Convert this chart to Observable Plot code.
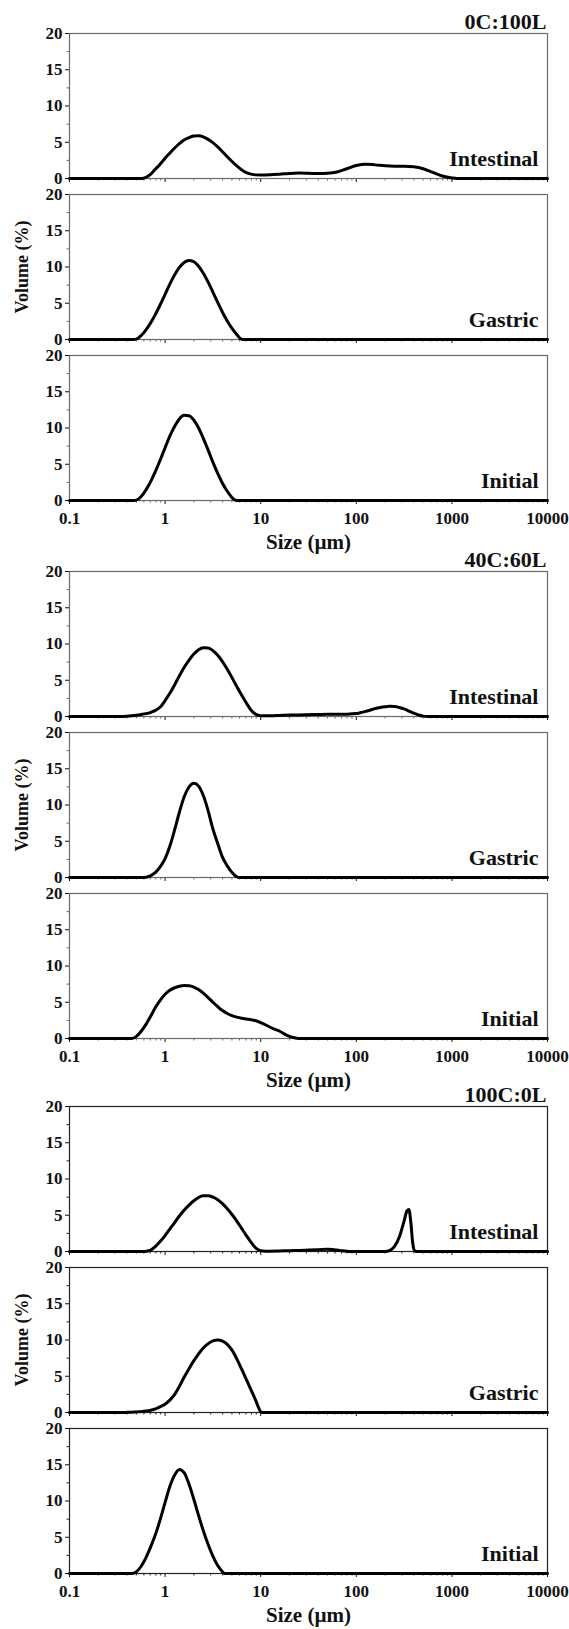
<!DOCTYPE html>
<html>
<head>
<meta charset="utf-8">
<script src="https://cdn.jsdelivr.net/npm/d3@7"></script>
<script src="https://cdn.jsdelivr.net/npm/@observablehq/plot@0.6"></script>
<style>
  body { margin: 0; background: #fff; }
  #fig { position: relative; width: 569px; height: 1629px; overflow: hidden; background: #fff; }
  #fig svg { position: absolute; left: 0; overflow: visible; }
</style>
</head>
<body>
<div id="fig"></div>
<script>
// Digestion stages, one panel each, top to bottom
const stages = ["Intestinal", "Gastric", "Initial"];
// Formulations (casein : lipid ratio), one block of panels each
const formulations = ["0C:100L", "40C:60L", "100C:0L"];

const xTicks = [0.1, 1, 10, 100, 1000, 10000];
const xTickLabels = ["0.1", "1", "10", "100", "1000", "10000"];
const yTicks = [0, 5, 10, 15, 20];
const yMinorTicks = [2.5, 7.5, 12.5, 17.5];

// Particle size distributions: [size (µm), volume (%)]
const c0Intestinal = [[0.1,0],[0.562,0],[0.631,0.15],[0.708,0.6],[0.794,1.3],[0.891,2.0],[1,2.8],[1.12,3.5],[1.26,4.2],[1.41,4.8],[1.58,5.3],[1.78,5.65],[2.0,5.85],[2.24,5.9],[2.51,5.75],[2.82,5.4],[3.16,4.95],[3.55,4.35],[3.98,3.7],[4.47,3.0],[5.01,2.35],[5.62,1.75],[6.31,1.2],[7.08,0.8],[7.94,0.6],[8.91,0.5],[10,0.48],[12.6,0.52],[15.8,0.6],[20,0.7],[25.1,0.75],[31.6,0.72],[39.8,0.68],[50.1,0.72],[63.1,0.9],[79.4,1.35],[100,1.8],[126,1.98],[158,1.88],[200,1.75],[251,1.7],[316,1.7],[398,1.62],[501,1.35],[631,0.85],[794,0.35],[1000,0.08],[1122,0],[10000,0]];
const c0Gastric = [[0.1,0],[0.47,0],[0.501,0.05],[0.562,0.55],[0.631,1.34],[0.708,2.33],[0.794,3.5],[0.891,4.83],[1,6.24],[1.12,7.64],[1.26,8.92],[1.41,9.94],[1.58,10.63],[1.78,10.9],[2.0,10.72],[2.24,10.11],[2.51,9.14],[2.82,7.91],[3.16,6.53],[3.55,5.11],[3.98,3.76],[4.47,2.55],[5.01,1.52],[5.62,0.69],[6.03,0.2],[6.5,0],[10000,0]];
const c0Initial = [[0.1,0],[0.47,0],[0.501,0.05],[0.562,0.56],[0.631,1.47],[0.708,2.64],[0.794,4.04],[0.891,5.62],[1,7.28],[1.12,8.88],[1.26,10.25],[1.41,11.25],[1.58,11.75],[1.78,11.7],[2.0,11.09],[2.24,10.0],[2.51,8.57],[2.82,6.95],[3.16,5.29],[3.55,3.74],[3.98,2.39],[4.47,1.27],[5.01,0.4],[5.4,0.05],[5.62,0],[10000,0]];

const c40Intestinal = [[0.1,0],[0.35,0],[0.398,0.04],[0.447,0.1],[0.501,0.18],[0.562,0.28],[0.631,0.4],[0.708,0.58],[0.794,0.85],[0.891,1.3],[1,2.2],[1.12,3.2],[1.26,4.39],[1.41,5.6],[1.58,6.75],[1.78,7.77],[2.0,8.61],[2.24,9.19],[2.51,9.47],[2.82,9.44],[3.16,9.09],[3.55,8.46],[3.98,7.58],[4.47,6.53],[5.01,5.36],[5.62,4.15],[6.31,2.97],[7.08,1.86],[7.94,0.87],[8.91,0.3],[10,0.12],[11.2,0.1],[12.6,0.1],[15.8,0.15],[20,0.2],[25.1,0.22],[31.6,0.25],[39.8,0.28],[50.1,0.3],[63.1,0.3],[79.4,0.32],[100,0.4],[112,0.55],[126,0.7],[141,0.9],[158,1.1],[178,1.25],[200,1.35],[224,1.4],[251,1.38],[282,1.25],[316,1.05],[355,0.75],[398,0.45],[447,0.2],[501,0.05],[562,0],[10000,0]];
const c40Gastric = [[0.1,0],[0.6,0],[0.708,0.25],[0.794,0.7],[0.891,1.5],[1,2.6],[1.12,4.3],[1.26,6.6],[1.41,9.0],[1.58,11.1],[1.78,12.5],[2.0,13.0],[2.24,12.6],[2.51,11.3],[2.82,9.2],[3.16,6.7],[3.55,4.7],[3.98,2.8],[4.47,1.6],[5.01,0.7],[5.62,0.1],[6.0,0],[10000,0]];
const c40Initial = [[0.1,0],[0.447,0],[0.501,0.3],[0.562,1.0],[0.631,1.95],[0.708,3.1],[0.794,4.3],[0.891,5.3],[1,6.1],[1.12,6.65],[1.26,7.0],[1.41,7.2],[1.58,7.3],[1.78,7.28],[2.0,7.1],[2.24,6.75],[2.51,6.25],[2.82,5.65],[3.16,5.0],[3.55,4.4],[3.98,3.85],[4.47,3.45],[5.01,3.15],[5.62,2.95],[6.31,2.8],[7.08,2.7],[7.94,2.6],[8.91,2.45],[10,2.2],[11.2,1.9],[12.6,1.55],[14.1,1.25],[15.8,1.0],[17.8,0.6],[20,0.3],[22.4,0.1],[25.1,0],[10000,0]];

const c100Intestinal = [[0.1,0],[0.6,0],[0.631,0.03],[0.708,0.2],[0.794,0.7],[0.891,1.4],[1,2.2],[1.12,3.1],[1.26,4.0],[1.41,4.9],[1.58,5.7],[1.78,6.4],[2.0,7.0],[2.24,7.45],[2.51,7.68],[2.82,7.68],[3.16,7.5],[3.55,7.15],[3.98,6.6],[4.47,5.9],[5.01,5.1],[5.62,4.2],[6.31,3.2],[7.08,2.2],[7.94,1.25],[8.91,0.45],[10,0.1],[11.2,0.05],[12.6,0.05],[15.8,0.08],[20,0.12],[25.1,0.15],[31.6,0.2],[39.8,0.25],[50.1,0.3],[56.2,0.28],[63.1,0.2],[70.8,0.1],[79.4,0.03],[89.1,0],[200,0],[224,0.15],[251,0.7],[282,2.0],[316,4.2],[339,5.6],[355,5.8],[372,4.0],[389,1.2],[407,0.1],[427,0],[10000,0]];
const c100Gastric = [[0.1,0],[0.35,0],[0.398,0.02],[0.447,0.05],[0.501,0.08],[0.562,0.12],[0.631,0.2],[0.708,0.32],[0.794,0.5],[0.891,0.8],[1,1.15],[1.12,1.7],[1.26,2.5],[1.41,3.6],[1.58,4.85],[1.78,6.05],[2.0,7.15],[2.24,8.1],[2.51,8.9],[2.82,9.5],[3.16,9.88],[3.55,10.0],[3.98,9.85],[4.47,9.4],[5.01,8.6],[5.62,7.4],[6.31,6.0],[7.08,4.55],[7.94,3.1],[8.91,1.6],[9.55,0.6],[10,0.1],[10.5,0],[10000,0]];
const c100Initial = [[0.1,0],[0.447,0],[0.501,0.25],[0.562,1.0],[0.631,2.2],[0.708,3.7],[0.794,5.4],[0.891,7.5],[1,9.8],[1.12,12.0],[1.26,13.6],[1.41,14.35],[1.58,13.9],[1.78,12.3],[2.0,10.2],[2.24,8.0],[2.51,5.9],[2.82,4.0],[3.16,2.4],[3.55,1.1],[3.98,0.25],[4.17,0],[10000,0]];

const curvesByFormulation = [
  [c0Intestinal, c0Gastric, c0Initial],
  [c40Intestinal, c40Gastric, c40Initial],
  [c100Intestinal, c100Gastric, c100Initial]
];

// Minor log ticks: 2..9 within each decade
const xMinorTicks = xTicks.slice(0, -1).flatMap(d => d3.range(2, 10).map(k => +(d * k).toPrecision(3)));

const serif = "'Liberation Serif', 'Times New Roman', Times, serif";

// Panel geometry (pixels)
const W = 569, mL = 69, mR = 22;
const panelH = 145, panelStep = 161, padTop = 12, padBottom = 58;
const blockTops = [33, 571, 1106];
const frameColors = ["#6a6a6a", "#6a6a6a", "#222"];
const pxPerDecade = (W - mL - mR) / Math.log10(10000 / 0.1);
const unitsPerPx = 20 / panelH;

const fig = document.getElementById("fig");
const label = {textAnchor: "middle", lineAnchor: "middle", fontWeight: "bold", fontFamily: serif};

function panel(b, s) {
  const isTop = s === 0, isMiddle = s === 1, isBottom = s === 2;
  const frameColor = frameColors[b];
  const pts = curvesByFormulation[b][s];
  const minorLen = 2.5;
  const marks = [
    Plot.frame({stroke: frameColor, strokeWidth: 1.2}),
    // short minor ticks below the x axis and left of the y axis
    Plot.ruleX(xMinorTicks, {x: d => d, y1: 0, y2: -minorLen * unitsPerPx, stroke: frameColor, strokeWidth: 1}),
    Plot.ruleY(yMinorTicks, {y: d => d, x1: 0.1 * Math.pow(10, -minorLen / pxPerDecade), x2: 0.1, stroke: frameColor, strokeWidth: 1}),
    Plot.line(pts, {x: d => d[0], y: d => d[1], curve: "monotone-x", stroke: "#000", strokeWidth: 3}),
    Plot.text([stages[s]], {...label, text: d => d, frameAnchor: "bottom-right", dx: -9, dy: -20, textAnchor: "end", fontSize: 22})
  ];
  if (isTop) marks.push(Plot.text([formulations[b]], {...label, text: d => d, frameAnchor: "top-right", dx: -1, dy: -12, textAnchor: "end", fontSize: 22}));
  if (isMiddle) marks.push(Plot.text(["Volume (%)"], {...label, text: d => d, frameAnchor: "left", dx: -47, rotate: -90, fontSize: 18}));
  if (isBottom) marks.push(Plot.text(["Size (µm)"], {...label, text: d => d, frameAnchor: "bottom", dy: 42, fontSize: 21}));

  const svg = Plot.plot({
    width: W,
    height: padTop + panelH + padBottom,
    marginTop: padTop, marginRight: mR, marginBottom: padBottom, marginLeft: mL,
    style: {fontFamily: serif, fontWeight: "bold", fontSize: "17px", color: "#111", background: "transparent", overflow: "visible"},
    x: {
      type: "log", domain: [0.1, 10000], ticks: xTicks, tickSize: 4, tickPadding: 7, label: null,
      tickFormat: isBottom ? (d => xTickLabels[xTicks.indexOf(d)]) : (() => "")
    },
    y: {domain: [0, 20], ticks: yTicks, tickSize: 4, tickPadding: 3, label: null, tickFormat: d => String(d)},
    marks
  });
  svg.style.top = (blockTops[b] + s * panelStep - padTop) + "px";
  fig.appendChild(svg);
}

formulations.forEach((_, b) => stages.forEach((_, s) => panel(b, s)));
</script>
</body>
</html>
